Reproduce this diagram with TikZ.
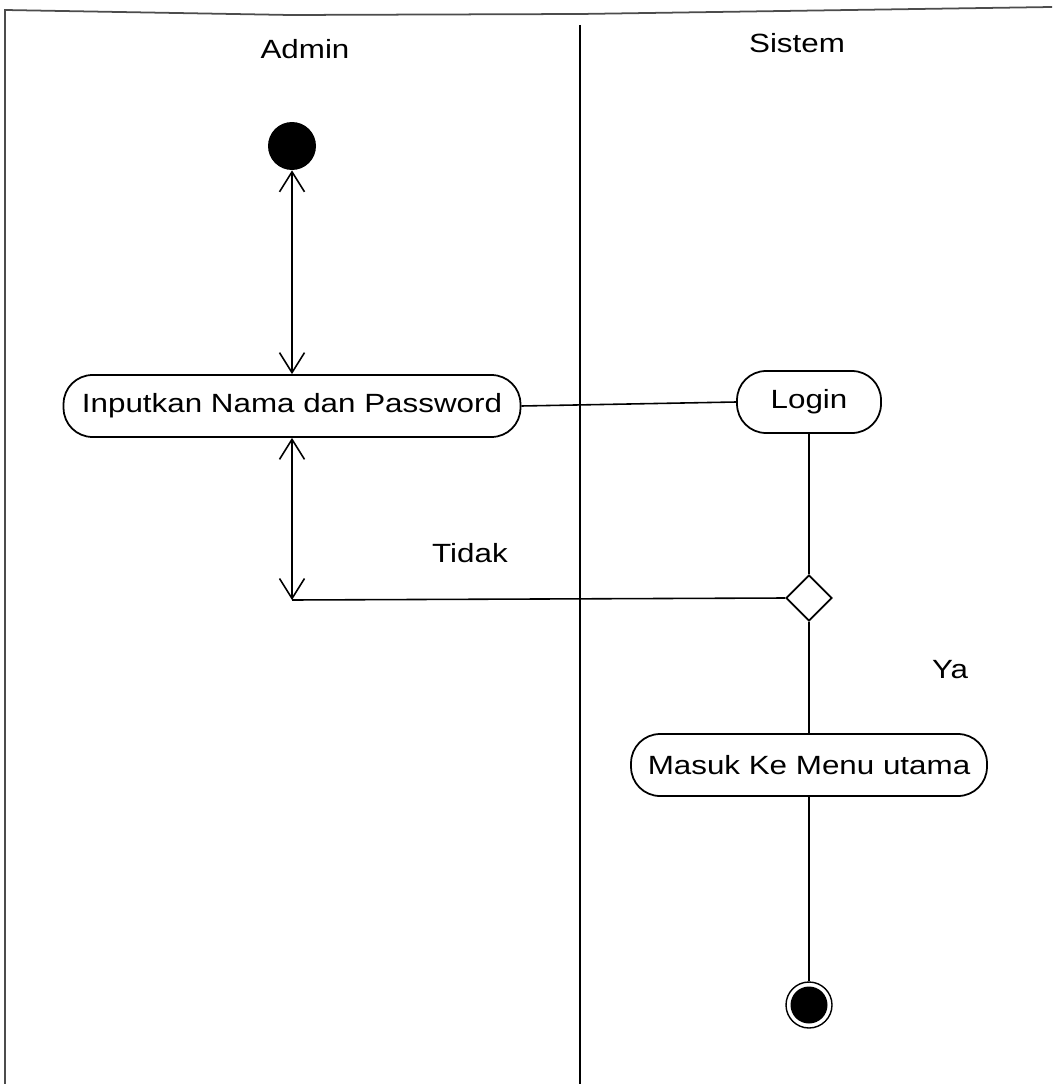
\documentclass[tikz,border=0pt]{standalone}
\usepackage{fontspec}
\setmainfont{Liberation Sans}[FakeStretch=1.19]
\usetikzlibrary{arrows.meta,shapes.geometric}

\begin{document}
\begin{tikzpicture}[x=0.02cm, y=-0.02cm,
    every node/.style={font=\fontsize{15}{18}\selectfont},
    vtip/.tip={Straight Barb[length=0.4cm,width=0.5cm]},
    activity/.style={draw, rounded corners=0.58cm, minimum height=1.24cm, inner sep=0pt, line width=1pt},
    decision/.style={draw, diamond, minimum width=0.92cm, minimum height=0.92cm, inner sep=0pt, line width=1pt},
    startstate/.style={circle, fill=black, minimum size=0.96cm, inner sep=0pt},
    endstate/.style={circle, draw, minimum size=0.92cm, inner sep=0pt, line width=0.8pt,
        path picture={\fill (path picture bounding box.center) circle (0.37cm);}},
    flow/.style={line width=0.9pt},
    twoway/.style={flow, vtip-vtip}]
    \useasboundingbox (0,0) rectangle (1052,1084);

    % Draw frame and swimlanes
    \draw[black!70, line width=1pt] (5,1084) -- (5,10) -- (290,15) -- (580,14) -- (1052,7);
    \draw[line width=0.9pt] (580,25) -- (580,1084);
    \foreach \lane/\x/\y in {Admin/305/49, Sistem/797/43} {
        \node (\lane) at (\x,\y) {\lane};
    }

    % Draw states and activities
    \node[startstate] (start) at (292,146) {};
    \node[activity, minimum width=9.14cm] (input) at (292,406) {Inputkan Nama dan Password};
    \node[activity, minimum width=2.88cm] (login) at (809,402) {Login};
    \node[decision] (check) at (809,598) {};
    \node[activity, minimum width=7.12cm] (menu) at (809,765) {Masuk Ke Menu utama};
    \node[endstate] (stop) at (809,1005) {};
    \coordinate (back) at (292,600);

    % Draw flows
    \draw[twoway] (start) -- (input);
    \draw[flow] (input.east) -- (login.west);
    \draw[flow] (login) -- (check);
    \draw[twoway] (input) -- (back);
    \draw[flow] (back) -- (check.west);
    \draw[flow] (check) -- (menu);
    \draw[flow] (menu) -- (stop);

    % Guard labels
    \node (tidak) at (470,553) {Tidak};
    \node (ya) at (950,670) {Ya};
\end{tikzpicture}
\end{document}
